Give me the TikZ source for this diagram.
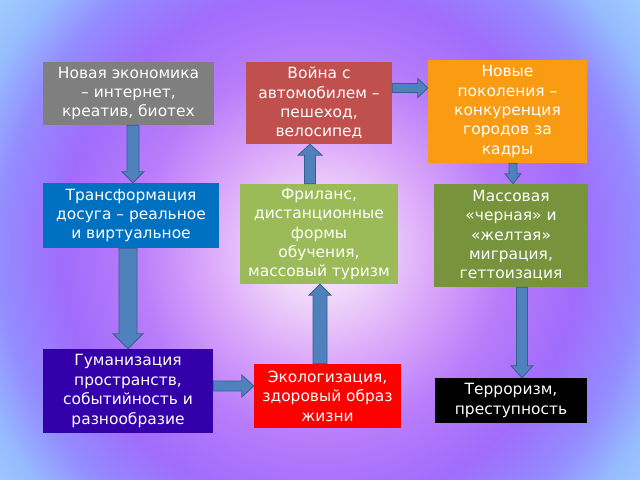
\documentclass[tikz,border=0pt]{standalone}
\usepackage{fontspec}
\setmainfont{DejaVu Sans}
\usetikzlibrary{calc}
\definecolor{cgrey}{RGB}{127,127,127}
\definecolor{cwar}{RGB}{192,80,77}
\definecolor{corange}{RGB}{250,155,20}
\definecolor{cblue}{RGB}{0,112,192}
\definecolor{cgreen}{RGB}{155,187,89}
\definecolor{colive}{RGB}{119,147,60}
\definecolor{cindigo}{RGB}{51,0,170}
\definecolor{cred}{RGB}{255,0,0}
\definecolor{arrfill}{RGB}{79,129,189}
\definecolor{arrline}{RGB}{56,93,138}
\pgfdeclareradialshading{bgshade}{\pgfpoint{0bp}{0bp}}{%
  color(0bp)=(rgb,255:red,246;green,238;blue,252);
  color(3.1bp)=(rgb,255:red,240;green,215;blue,250);
  color(6.9bp)=(rgb,255:red,220;green,170;blue,250);
  color(11.5bp)=(rgb,255:red,185;green,125;blue,250);
  color(16.2bp)=(rgb,255:red,160;green,108;blue,252);
  color(20bp)=(rgb,255:red,148;green,140;blue,255);
  color(23bp)=(rgb,255:red,150;green,188;blue,255);
  color(27bp)=(rgb,255:red,165;green,215;blue,255);
  color(50bp)=(rgb,255:red,170;green,220;blue,255)}
\tikzset{
  box/.style={rectangle, inner sep=0pt, text=white, align=center,
    font=\fontsize{15.5}{19.5}\selectfont},
  arr/.style={fill=arrfill, draw=arrline, line width=0.8bp, line join=miter}
}
\newcommand\blockarr[5]{%
  \coordinate (bhA) at ($(#2)!#5!(#1)$);
  \draw[arr] ($(#1)!#3!90:(#2)$) -- ($(bhA)!#3!90:(#2)$) -- ($(bhA)!#4!90:(#2)$)
    -- (#2) -- ($(bhA)!#4!-90:(#2)$) -- ($(bhA)!#3!-90:(#2)$) -- ($(#1)!#3!-90:(#2)$) -- cycle;}
\begin{document}
\begin{tikzpicture}[x=1bp,y=-1bp]
\useasboundingbox (0,0) rectangle (640,480);
\begin{scope}
\clip (0,0) rectangle (640,480);
\shade[shading=bgshade] (-80,-150) rectangle (720,650);
\end{scope}

\node[box, fill=cgrey, minimum width=171bp, minimum height=63bp] (n1) at (128.5,93.5)
  {Новая экономика\\– интернет,\\креатив, биотех};
\node[box, fill=cwar, minimum width=146bp, minimum height=82bp] (n2) at (319,103)
  {Война с\\автомобилем –\\пешеход,\\велосипед};
\node[box, fill=corange, minimum width=159bp, minimum height=103bp] (n3) at (507.5,111.5)
  {Новые\\поколения –\\конкуренция\\городов за\\кадры};
\node[box, fill=cblue, minimum width=176bp, minimum height=65bp] (n4) at (131,215.5)
  {Трансформация\\досуга – реальное\\и виртуальное};
\node[box, fill=cgreen, minimum width=158bp, minimum height=100bp] (n5) at (319,234)
  {Фриланс,\\дистанционные\\формы\\обучения,\\массовый туризм};
\node[box, fill=colive, minimum width=154bp, minimum height=103bp] (n6) at (511,235.5)
  {Массовая\\«черная» и\\«желтая»\\миграция,\\геттоизация};
\node[box, fill=cindigo, minimum width=170bp, minimum height=84bp] (n7) at (128,391)
  {Гуманизация\\пространств,\\событийность и\\разнообразие};
\node[box, fill=cred, minimum width=147bp, minimum height=64bp] (n8) at (327.5,396)
  {Экологизация,\\здоровый образ\\жизни};
\node[box, fill=black, minimum width=152bp, minimum height=45bp] (n9) at (511,400.5)
  {Терроризм,\\преступность};

\coordinate (a1s) at ($(n1.south)+(4.5,0)$);
\coordinate (a1e) at (a1s |- n4.north);
\blockarr{a1s}{a1e}{6bp}{11bp}{11bp}

\coordinate (a2s) at ($(n4.south)+(-3,0)$);
\coordinate (a2e) at (a2s |- n7.north);
\blockarr{a2s}{a2e}{9bp}{15bp}{15bp}

\coordinate (a3s) at ($(n7.east)+(0,-5)$);
\coordinate (a3e) at (a3s -| n8.west);
\blockarr{a3s}{a3e}{5bp}{11bp}{12bp}

\coordinate (a4s) at ($(n8.north)+(-7.5,0)$);
\coordinate (a4e) at (a4s |- n5.south);
\blockarr{a4s}{a4e}{7bp}{11bp}{11bp}

\coordinate (a5s) at ($(n5.north)+(-9,0)$);
\coordinate (a5e) at (a5s |- n2.south);
\blockarr{a5s}{a5e}{5.5bp}{12bp}{11bp}

\coordinate (a6s) at ($(n2.east)+(0,-15)$);
\coordinate (a6e) at (a6s -| n3.west);
\blockarr{a6s}{a6e}{4.5bp}{9.5bp}{10bp}

\coordinate (a7s) at ($(n3.south)+(5.5,0)$);
\coordinate (a7e) at (a7s |- n6.north);
\blockarr{a7s}{a7e}{4bp}{8bp}{10bp}

\coordinate (a8s) at ($(n6.south)+(11,0)$);
\coordinate (a8e) at (a8s |- n9.north);
\blockarr{a8s}{a8e}{5.5bp}{11bp}{12bp}
\end{tikzpicture}
\end{document}
